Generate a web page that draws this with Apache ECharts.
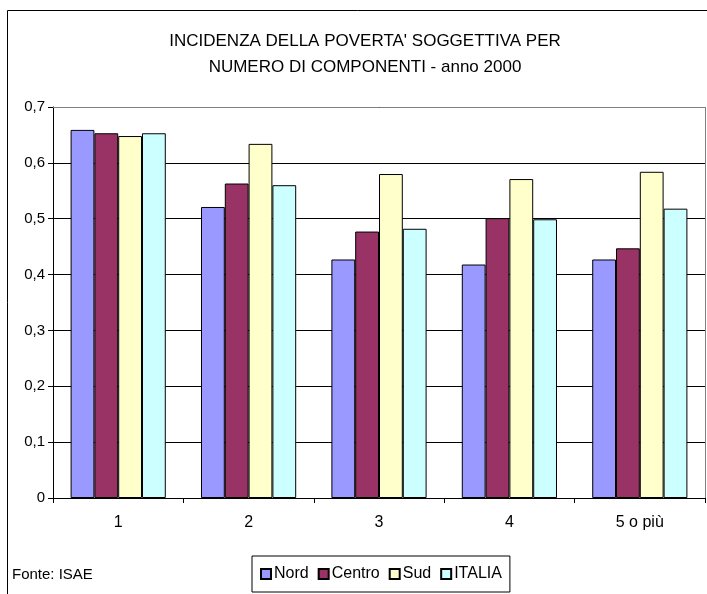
<!DOCTYPE html>
<html>
<head>
<meta charset="utf-8">
<script src="https://cdn.jsdelivr.net/npm/echarts@6/dist/echarts.min.js"></script>
<style>
html,body{margin:0;padding:0;background:#fff;}
#c{width:707px;height:594px;}
</style>
</head>
<body>
<div id="c"></div>
<script>
const categories = ['1', '2', '3', '4', '5 o più'];
const nord   = [0.659, 0.521, 0.427, 0.418, 0.427];
const centro = [0.653, 0.563, 0.477, 0.501, 0.447];
const sud    = [0.648, 0.634, 0.580, 0.571, 0.584];
const italia = [0.653, 0.560, 0.482, 0.499, 0.518];
const seriesNames = ['Nord', 'Centro', 'Sud', 'ITALIA'];
const colors = ['#9999FF', '#993366', '#FFFFCC', '#CCFFFF'];
const titleText = "INCIDENZA DELLA POVERTA' SOGGETTIVA PER\nNUMERO DI COMPONENTI - anno 2000";
const sourceText = 'Fonte: ISAE';

const FONT = '"Liberation Sans", Arial, sans-serif';
const chart = echarts.init(document.getElementById('c'));
const data = [nord, centro, sud, italia];
chart.setOption({
  animation: false,
  backgroundColor: '#fff',
  title: {
    text: titleText,
    left: 360, top: 23, textAlign: 'center',
    textStyle: {fontFamily: FONT, fontSize: 17, fontWeight: 'normal', color: '#000', lineHeight: 26}
  },
  grid: {left: 53, right: 2, top: 107, bottom: 96},
  legend: {
    data: seriesNames,
    left: 252, top: 556,
    width: 262, height: 35,
    padding: [10, 8, 10, 8],
    borderColor: '#000', borderWidth: 1,
    itemWidth: 10, itemHeight: 10, itemGap: 9,
    icon: 'rect',
    textStyle: {fontFamily: FONT, fontSize: 16, color: '#000', padding: [0, 0, 0, -2]}
  },
  xAxis: {
    type: 'category', data: categories,
    axisLine: {lineStyle: {color: '#000', width: 1}},
    axisTick: {show: true, length: 5, lineStyle: {color: '#000'}},
    axisLabel: {fontFamily: FONT, fontSize: 16, color: '#000', margin: 17}
  },
  yAxis: {
    type: 'value', min: 0, max: 0.7, interval: 0.1,
    axisLine: {show: true, lineStyle: {color: '#000'}},
    axisTick: {show: true, length: 5, lineStyle: {color: '#000'}},
    axisLabel: {fontFamily: FONT, fontSize: 15, color: '#000', margin: 8,
      formatter: v => (Math.round(v * 10) / 10).toString().replace('.', ',')},
    splitLine: {lineStyle: {color: '#000', width: 1}}
  },
  series: data.map((d, i) => ({
    name: seriesNames[i], type: 'bar', data: d,
    barGap: '0%', barCategoryGap: '27%',
    itemStyle: {color: colors[i], borderColor: '#000', borderWidth: 1}
  })),
  graphic: [
    {type: 'rect', shape: {x: 7.5, y: 10.5, width: 760, height: 640}, style: {fill: null, stroke: '#000', lineWidth: 1}, silent: true},
    {type: 'line', shape: {x1: 705.5, y1: 107, x2: 705.5, y2: 498}, style: {stroke: '#808080', lineWidth: 1}, z: 10},
    {type: 'line', shape: {x1: 53, y1: 107.5, x2: 706, y2: 107.5}, style: {stroke: '#808080', lineWidth: 1}, z: 10},
    {type: 'text', left: 12, top: 567, style: {text: sourceText, font: '15px ' + FONT, fill: '#000'}}
  ]
});
</script>
</body>
</html>
